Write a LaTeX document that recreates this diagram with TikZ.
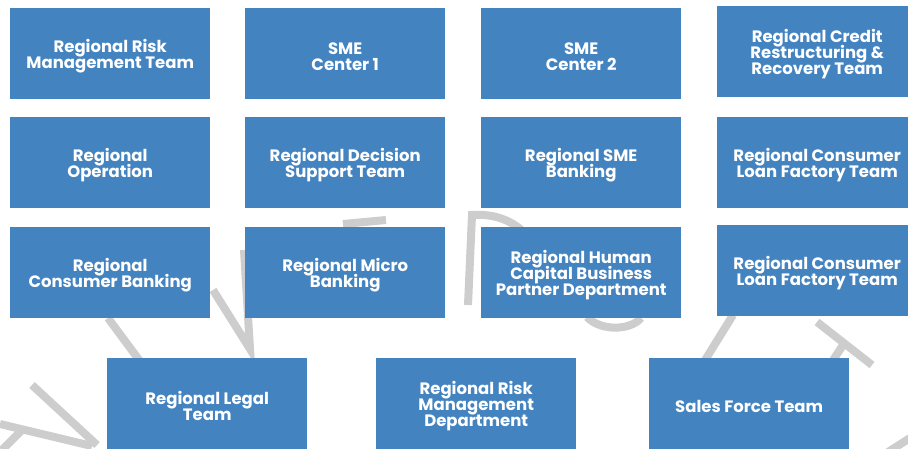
\documentclass[tikz,border=0pt]{standalone}
\usepackage{fontspec}
\setmainfont{Poppins}
\definecolor{boxblue}{RGB}{67,131,192}
\definecolor{markgray}{RGB}{205,205,205}
% centred label lines at a fixed baseline distance, set a little low in the box
\newcommand\unitlabel[1]{\raisebox{-2.5pt}[\height][\depth]{\vbox{\hsize=196pt
  \parindent=0pt\centering\baselineskip=16pt\lineskiplimit=-20pt\lineskip=0pt\relax
  #1\par}}}
\tikzset{
  unitbox/.style={rectangle, fill=boxblue, draw=none, anchor=north west,
    minimum width=200pt, minimum height=91pt, inner sep=0pt,
    text=white, font=\fontsize{16.5}{16}\selectfont\bfseries},
  markstroke/.style={draw=markgray, line width=8pt, line join=miter}
}
\begin{document}
\begin{tikzpicture}[x=1pt, y=-1pt]
\useasboundingbox (0,0) rectangle (908,448);

% faint lettering in the background
\draw[markstroke] (32,385) -- (97,445);
\draw[markstroke] (0,424) -- (92,446);
\draw[markstroke] (2,450) -- (22,430);
\draw[markstroke] (108,318) -- (145,368);
\draw[markstroke] (213,290) -- (250,349) -- (244,250);
\draw[markstroke] (343,224) -- (386,220);
\draw[markstroke] (468,305) -- (472,215) .. controls (500,213) and (520,225) .. (530,240);
\draw[markstroke] (587,317) .. controls (600,331) and (630,331) .. (641,318);
\draw[markstroke] (733,315) -- (702,365);
\draw[markstroke] (817,322) -- (872,365);
\draw[markstroke] (843,345) -- (820,380);
\draw[markstroke] (888,452) -- (910,438);

% first row
\node[unitbox] (rrmt) at (10,8) {\unitlabel{Regional Risk\\Management Team}};
\node[unitbox] (sme1) at (245,8) {\unitlabel{SME\\Center 1}};
\node[unitbox] (sme2) at (481,8) {\unitlabel{SME\\Center 2}};
\node[unitbox] (rcrr) at (717,6) {\unitlabel{Regional Credit\\Restructuring \&\\Recovery Team}};

% second row
\node[unitbox] (rop) at (10,117) {\unitlabel{Regional\\Operation}};
\node[unitbox] (rdst) at (245,117) {\unitlabel{Regional Decision\\Support Team}};
\node[unitbox] (rsme) at (481,117) {\unitlabel{Regional SME\\Banking}};
\node[unitbox] (rclf) at (717,117) {\unitlabel{Regional Consumer\\Loan Factory Team}};

% third row
\node[unitbox] (rcb) at (10,227) {\unitlabel{Regional\\Consumer Banking}};
\node[unitbox] (rmb) at (245,227) {\unitlabel{Regional Micro\\Banking}};
\node[unitbox] (rhc) at (481,227) {\unitlabel{Regional Human\\Capital Business\\Partner Department}};
\node[unitbox] (rclf2) at (717,225) {\unitlabel{Regional Consumer\\Loan Factory Team}};

% fourth row
\node[unitbox] (rlt) at (107,358) {\unitlabel{Regional Legal\\Team}};
\node[unitbox] (rrmd) at (376,358) {\unitlabel{Regional Risk\\Management\\Department}};
\node[unitbox] (sft) at (649,358) {\unitlabel{Sales Force Team}};
\end{tikzpicture}
\end{document}
